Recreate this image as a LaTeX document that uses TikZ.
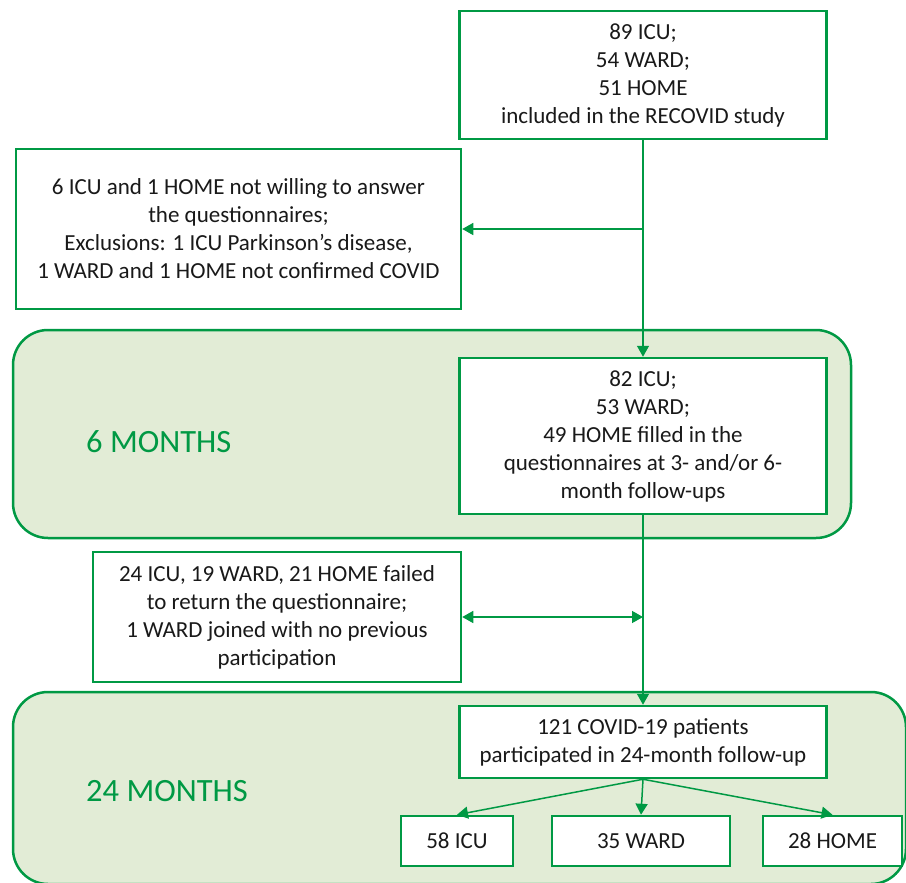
\documentclass[tikz,border=0pt]{standalone}
\usepackage{fontspec}
\setmainfont{Carlito}
\usepackage{xcolor}
\usepackage{tikz}
\usetikzlibrary{arrows.meta,shapes,backgrounds,calc,positioning}
\definecolor{recgreen}{RGB}{0,153,68}
\definecolor{recfill}{RGB}{226,236,214}
\tikzset{
	box/.style={draw=recgreen, line width=2.5pt, fill=white, align=center, inner sep=0pt, text=black!90, font=\fontsize{23}{28}\selectfont},
	phase/.style={draw=recgreen, line width=2.5pt, fill=recfill, rounded corners=35pt},
	phaselabel/.style={text=recgreen, anchor=west, inner sep=0pt, font=\fontsize{32.5}{38}\selectfont},
	flow/.style={draw=recgreen, line width=1.5pt, -{Triangle[width=12pt,length=11pt]}},
	flowboth/.style={draw=recgreen, line width=1.5pt, {Triangle[width=12pt,length=11pt]}-{Triangle[width=12pt,length=11pt]}}
}

\begin{document}
\begin{tikzpicture}[x=1pt, y=-1pt]

	\useasboundingbox (0,0) rectangle (906,883);

	% follow-up phases
	\draw[phase] (13,330) rectangle (851,538);
	\draw[phase] (13,692) rectangle (906,884);
	\node[phaselabel] (lab6) at (86,442) {6 MONTHS};
	\node[phaselabel] (lab24) at (86,791) {24 MONTHS};

	% main column
	\node[box, minimum width=367pt, minimum height=128pt] (incl) at (643,75)
		{89 ICU;\\54 WARD;\\51 HOME\\included in the RECOVID study};
	\node[box, minimum width=445pt, minimum height=160pt] (excl) at (238.5,229)
		{6 ICU and 1 HOME not willing to answer\\the questionnaires;\\Exclusions: 1 ICU Parkinson’s disease,\\1 WARD and 1 HOME not confirmed COVID};
	\node[box, minimum width=367pt, minimum height=156pt] (six) at (643,436)
		{82 ICU;\\53 WARD;\\49 HOME filled in the\\questionnaires at 3- and/or 6-\\month follow-ups};
	\node[box, minimum width=368pt, minimum height=130pt] (fail) at (277,617)
		{24 ICU, 19 WARD, 21 HOME failed\\to return the questionnaire;\\1 WARD joined with no previous\\participation};
	\node[box, minimum width=367pt, minimum height=72pt] (part) at (643,742)
		{121 COVID-19 patients\\participated in 24-month follow-up};

	% groups at 24 months
	\node[box, minimum width=112pt, minimum height=50pt] (icu) at (457,841) {58 ICU};
	\node[box, minimum width=178pt, minimum height=50pt] (ward) at (641,841) {35 WARD};
	\node[box, minimum width=139pt, minimum height=50pt] (home) at (832.5,841) {28 HOME};

	% connectors
	\coordinate (j1) at (incl.south |- excl.east);
	\coordinate (j2) at (six.south |- fail.east);
	\draw[flow] (incl.south) -- (six.north);
	\draw[flow] (j1) -- (excl.east);
	\draw[flow] (six.south) -- (part.north);
	\draw[flowboth] (fail.east) -- (j2);
	\draw[flow] (part.south) -- (icu.north);
	\draw[flow] (part.south) -- (ward.north);
	\draw[flow] (part.south) -- (home.north);

\end{tikzpicture}
\end{document}
